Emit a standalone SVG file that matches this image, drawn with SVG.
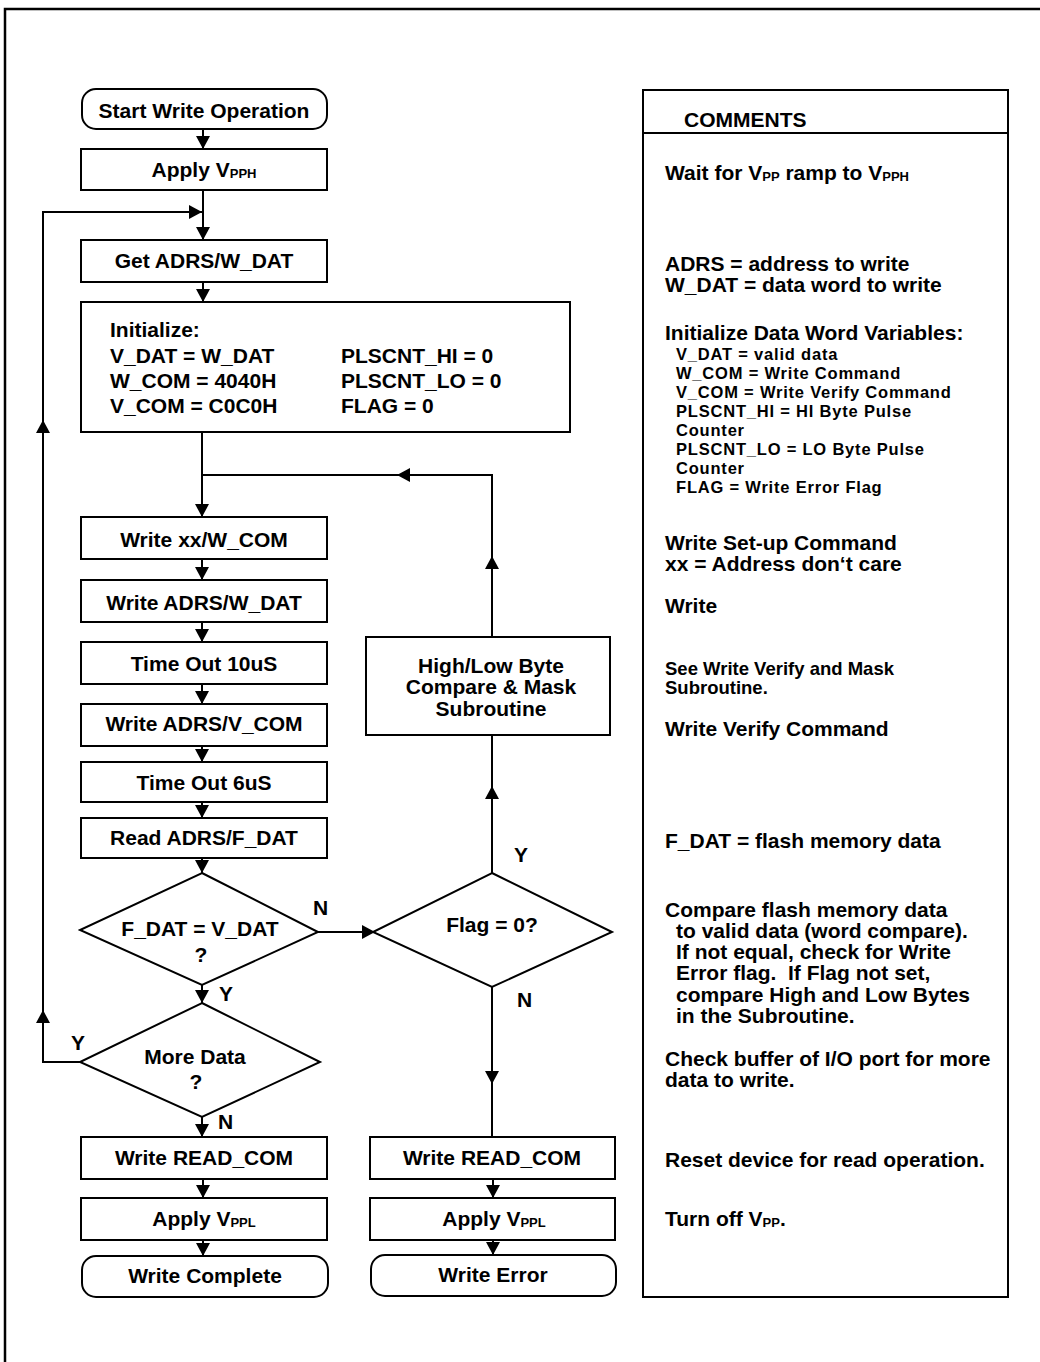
<svg xmlns="http://www.w3.org/2000/svg" width="1040" height="1362" viewBox="0 0 1040 1362">
<style>
  .box { fill: #fff; stroke: #000; stroke-width: 2; }
  .t { font-family: "Liberation Sans", Arial, sans-serif; font-weight: bold; font-size: 21px; fill: #000; }
  .c { text-anchor: middle; }
  .s { font-size: 18.5px; }
  .xs { font-size: 16.5px; letter-spacing: 0.8px; }
  .sub { font-size: 13px; letter-spacing: 0; }
  .conn path { fill: none; stroke: #000; stroke-width: 2; }
</style>
<defs>
  <marker id="arr" markerUnits="userSpaceOnUse" markerWidth="16" markerHeight="16" refX="13" refY="7" orient="auto">
    <path d="M0,0 L13,7 L0,14 z" fill="#000"/>
  </marker>
</defs>
<rect width="1040" height="1362" fill="#fff"/>
<g id="frame">
  <path d="M5,1362 V9 H1040" fill="none" stroke="#000" stroke-width="2.5"/>
</g>

<g id="start"><rect class="box" x="82" y="89" width="245" height="40" rx="14"/><text class="t c" x="204" y="118">Start Write Operation</text></g>
<g id="apply_vpph"><rect class="box" x="81" y="149" width="246" height="41"/><text class="t c" x="204" y="177">Apply V<tspan class="sub" dy="1">PPH</tspan></text></g>
<g id="get_adrs"><rect class="box" x="81" y="240" width="246" height="42"/><text class="t c" x="204" y="268">Get ADRS/W_DAT</text></g>
<g id="initialize"><rect class="box" x="81" y="302" width="489" height="130"/>
  <text class="t" x="110" y="337">Initialize:</text>
  <text class="t" x="110" y="363">V_DAT = W_DAT</text>
  <text class="t" x="110" y="388">W_COM = 4040H</text>
  <text class="t" x="110" y="413">V_COM = C0C0H</text>
  <text class="t" x="341" y="363">PLSCNT_HI = 0</text>
  <text class="t" x="341" y="388">PLSCNT_LO = 0</text>
  <text class="t" x="341" y="413">FLAG = 0</text>
</g>
<g id="write_wcom"><rect class="box" x="81" y="517" width="246" height="42"/><text class="t c" x="204" y="547">Write xx/W_COM</text></g>
<g id="write_wdat"><rect class="box" x="81" y="580" width="246" height="42"/><text class="t c" x="204" y="610">Write ADRS/W_DAT</text></g>
<g id="timeout10"><rect class="box" x="81" y="642" width="246" height="42"/><text class="t c" x="204" y="671">Time Out 10uS</text></g>
<g id="write_vcom"><rect class="box" x="81" y="704" width="246" height="42"/><text class="t c" x="204" y="731">Write ADRS/V_COM</text></g>
<g id="timeout6"><rect class="box" x="81" y="762" width="246" height="40"/><text class="t c" x="204" y="790">Time Out 6uS</text></g>
<g id="read_fdat"><rect class="box" x="81" y="818" width="246" height="40"/><text class="t c" x="204" y="845">Read ADRS/F_DAT</text></g>
<g id="dec_fdat"><polygon class="box" points="202,873 318,932 202,985 80,930"/>
  <text class="t c" x="200" y="936">F_DAT = V_DAT</text><text class="t c" x="201" y="962">?</text></g>
<g id="dec_flag"><polygon class="box" points="492,873 612,932 492,987 373,932"/>
  <text class="t c" x="492" y="932">Flag = 0?</text></g>
<g id="subroutine"><rect class="box" x="366" y="637" width="244" height="98"/>
  <text class="t c" x="491" y="673">High/Low Byte</text>
  <text class="t c" x="491" y="694">Compare &amp; Mask</text>
  <text class="t c" x="491" y="716">Subroutine</text></g>
<g id="dec_more"><polygon class="box" points="202,1003 320,1062 202,1117 80,1062"/>
  <text class="t c" x="195" y="1064">More Data</text><text class="t c" x="196" y="1089">?</text></g>
<g id="read_com_l"><rect class="box" x="81" y="1137" width="246" height="42"/><text class="t c" x="204" y="1165">Write READ_COM</text></g>
<g id="apply_vppl_l"><rect class="box" x="81" y="1198" width="246" height="42"/><text class="t c" x="204" y="1226">Apply V<tspan class="sub" dy="1">PPL</tspan></text></g>
<g id="write_complete"><rect class="box" x="82" y="1256" width="246" height="41" rx="14"/><text class="t c" x="205" y="1283">Write Complete</text></g>
<g id="read_com_r"><rect class="box" x="370" y="1137" width="245" height="42"/><text class="t c" x="492" y="1165">Write READ_COM</text></g>
<g id="apply_vppl_r"><rect class="box" x="370" y="1198" width="245" height="42"/><text class="t c" x="494" y="1226">Apply V<tspan class="sub" dy="1">PPL</tspan></text></g>
<g id="write_error"><rect class="box" x="371" y="1255" width="245" height="41" rx="14"/><text class="t c" x="493" y="1282">Write Error</text></g>

<g id="connectors" class="conn">
  <path d="M203,129 V149" marker-end="url(#arr)"/>
  <path d="M203,190 V240" marker-end="url(#arr)"/>
  <path d="M80,1062 H43 V1010" marker-end="url(#arr)"/>
  <path d="M43,1010 V420" marker-end="url(#arr)"/>
  <path d="M43,420 V212 H202" marker-end="url(#arr)"/>
  <path d="M203,282 V302" marker-end="url(#arr)"/>
  <path d="M202,432 V517" marker-end="url(#arr)"/>
  <path d="M492,873 V786" marker-end="url(#arr)"/>
  <path d="M492,786 V735"/>
  <path d="M492,637 V556" marker-end="url(#arr)"/>
  <path d="M492,556 V475 H397" marker-end="url(#arr)"/>
  <path d="M397,475 H202"/>
  <path d="M202,559 V580" marker-end="url(#arr)"/>
  <path d="M202,622 V642" marker-end="url(#arr)"/>
  <path d="M202,684 V704" marker-end="url(#arr)"/>
  <path d="M202,746 V762" marker-end="url(#arr)"/>
  <path d="M202,802 V818" marker-end="url(#arr)"/>
  <path d="M202,858 V873" marker-end="url(#arr)"/>
  <path d="M202,985 V1003" marker-end="url(#arr)"/>
  <path d="M318,932 H375" marker-end="url(#arr)"/>
  <path d="M492,987 V1084" marker-end="url(#arr)"/>
  <path d="M492,1084 V1137"/>
  <path d="M202,1117 V1137" marker-end="url(#arr)"/>
  <path d="M203,1179 V1198" marker-end="url(#arr)"/>
  <path d="M203,1240 V1256" marker-end="url(#arr)"/>
  <path d="M493,1179 V1198" marker-end="url(#arr)"/>
  <path d="M493,1240 V1255" marker-end="url(#arr)"/>
  <text class="t" x="313" y="915">N</text>
  <text class="t" x="514" y="862">Y</text>
  <text class="t" x="517" y="1007">N</text>
  <text class="t" x="219" y="1001">Y</text>
  <text class="t" x="71" y="1050">Y</text>
  <text class="t" x="218" y="1129">N</text>
</g>

<g id="comments">
  <rect class="box" x="643" y="90" width="365" height="1207"/>
  <line x1="643" y1="133" x2="1008" y2="133" stroke="#000" stroke-width="2"/>
  <text class="t" x="684" y="127">COMMENTS</text>
  <text class="t" x="665" y="180">Wait for V<tspan class="sub" dy="1">PP</tspan><tspan dy="-1"> ramp to V</tspan><tspan class="sub" dy="1">PPH</tspan></text>
  <text class="t" x="665" y="271">ADRS = address to write</text>
  <text class="t" x="665" y="292">W_DAT = data word to write</text>
  <text class="t" x="665" y="340">Initialize Data Word Variables:</text>
  <text class="t xs" x="676" y="360">V_DAT = valid data</text>
  <text class="t xs" x="676" y="379">W_COM = Write Command</text>
  <text class="t xs" x="676" y="398">V_COM = Write Verify Command</text>
  <text class="t xs" x="676" y="417">PLSCNT_HI = HI Byte Pulse</text>
  <text class="t xs" x="676" y="436">Counter</text>
  <text class="t xs" x="676" y="455">PLSCNT_LO = LO Byte Pulse</text>
  <text class="t xs" x="676" y="474">Counter</text>
  <text class="t xs" x="676" y="493">FLAG = Write Error Flag</text>
  <text class="t" x="665" y="550">Write Set-up Command</text>
  <text class="t" x="665" y="571">xx = Address don‘t care</text>
  <text class="t" x="665" y="613">Write</text>
  <text class="t s" x="665" y="675">See Write Verify and Mask</text>
  <text class="t s" x="665" y="694">Subroutine.</text>
  <text class="t" x="665" y="736">Write Verify Command</text>
  <text class="t" x="665" y="848">F_DAT = flash memory data</text>
  <text class="t" x="665" y="917">Compare flash memory data</text>
  <text class="t" x="676" y="938">to valid data (word compare).</text>
  <text class="t" x="676" y="959">If not equal, check for Write</text>
  <text class="t" x="676" y="980">Error flag.&#160; If Flag not set,</text>
  <text class="t" x="676" y="1002">compare High and Low Bytes</text>
  <text class="t" x="676" y="1023">in the Subroutine.</text>
  <text class="t" x="665" y="1066">Check buffer of I/O port for more</text>
  <text class="t" x="665" y="1087">data to write.</text>
  <text class="t" x="665" y="1167">Reset device for read operation.</text>
  <text class="t" x="665" y="1226">Turn off V<tspan class="sub" dy="1">PP</tspan><tspan dy="-1">.</tspan></text>
</g>
</svg>
